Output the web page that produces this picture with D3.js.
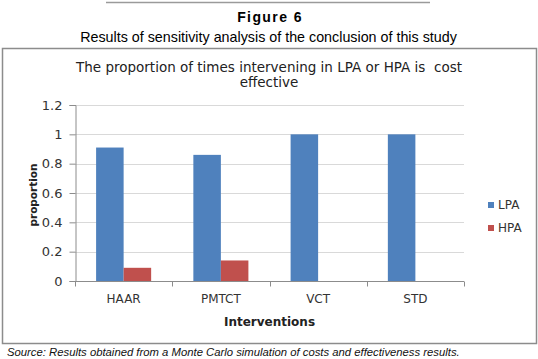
<!doctype html>
<html lang="en">
<head>
<meta charset="UTF-8">
<title>Figure 6</title>
<style>
  body { margin: 0; background: #fff; }
  svg { display: block; }
</style>
</head>
<body>
<svg id="chart"></svg>
<script src="https://cdn.jsdelivr.net/npm/d3@7"></script>
<script>
const categories = ["HAAR", "PMTCT", "VCT", "STD"];
const seriesNames = ["LPA", "HPA"];
const lpaValues = [0.91, 0.86, 1, 1];
const hpaValues = [0.09, 0.14, 0, 0];
const yTicks = [0, 0.2, 0.4, 0.6, 0.8, 1, 1.2];
const colors = ["#4f81bd", "#c0504d"];

const width = 538, height = 359;
const svg = d3.select("#chart").attr("width", width).attr("height", height);

const plot = { left: 75, right: 464, top: 105, bottom: 281 };

// page header
svg.append("line")
   .attr("x1", 106).attr("x2", 430).attr("y1", 2.5).attr("y2", 2.5)
   .style("stroke", "#9a9a9a").style("stroke-width", 1.5);

svg.append("text")
   .attr("x", 270).attr("y", 22)
   .attr("text-anchor", "middle")
   .style("font", "bold 14px 'Liberation Sans', Arial, sans-serif")
   .style("letter-spacing", "1.4px")
   .text("Figure 6");

svg.append("text")
   .attr("x", 268.5).attr("y", 42)
   .attr("text-anchor", "middle")
   .style("font", "14.3px 'Liberation Sans', Arial, sans-serif")
   .text("Results of sensitivity analysis of the conclusion of this study");

// chart frame
svg.append("rect")
   .attr("x", 2.5).attr("y", 48.5).attr("width", 534).attr("height", 295)
   .style("fill", "#fff").style("stroke", "#8c8c8c").style("stroke-width", 1.5);

const title = svg.append("text")
   .attr("text-anchor", "middle")
   .style("font", "13.5px 'DejaVu Sans', Verdana, sans-serif").style("fill", "#222");
title.append("tspan").attr("x", 269).attr("y", 72)
     .text("The proportion of times intervening in LPA or HPA is\u00a0\u00a0cost");
title.append("tspan").attr("x", 269).attr("y", 87).text("effective");

// scales
const x0 = d3.scaleBand().domain(categories).range([plot.left, plot.right]).padding(0);
const bw = x0.bandwidth();
const x1 = d3.scaleBand().domain(seriesNames).range([bw * 0.217, bw * 0.783]).padding(0);
const y = d3.scaleLinear().domain([0, 1.2]).range([plot.bottom, plot.top]);

// gridlines
svg.append("g").selectAll("line").data(yTicks.filter(d => d > 0)).join("line")
   .attr("x1", plot.left).attr("x2", plot.right)
   .attr("y1", d => Math.round(y(d)) + 0.5).attr("y2", d => Math.round(y(d)) + 0.5)
   .style("stroke", "#d9d9d9").style("stroke-width", 1);

// bars
const rows = categories.map((c, i) => ({ cat: c, values: [lpaValues[i], hpaValues[i]] }));
const groups = svg.append("g").selectAll("g").data(rows).join("g")
   .attr("transform", d => `translate(${x0(d.cat)},0)`);
groups.selectAll("rect")
   .data(d => d.values.map((v, j) => ({ name: seriesNames[j], value: v, j })))
   .join("rect")
   .attr("x", d => x1(d.name))
   .attr("width", x1.bandwidth())
   .attr("y", d => y(d.value))
   .attr("height", d => y(0) - y(d.value))
   .style("fill", d => colors[d.j]);

// y axis
const yAxis = svg.append("g")
   .attr("transform", `translate(${plot.left + 0.5},0)`)
   .call(d3.axisLeft(y).tickValues(yTicks).tickSize(6).tickPadding(7)
           .tickFormat(d => d3.format("~g")(d)));
yAxis.select(".domain").style("stroke", "#8c8c8c");
yAxis.selectAll(".tick line").style("stroke", "#8c8c8c");
yAxis.selectAll(".tick text")
   .style("font", "13px 'DejaVu Sans', Verdana, sans-serif").style("fill", "#333");

// x axis
const xAxisG = svg.append("g").attr("transform", `translate(0,${plot.bottom + 0.5})`);
xAxisG.append("line").attr("x1", plot.left).attr("x2", plot.right)
   .style("stroke", "#8c8c8c");
const bounds = categories.map(c => x0(c)).concat([plot.right]);
xAxisG.selectAll(".xt").data(bounds).join("line")
   .attr("class", "xt")
   .attr("x1", d => Math.round(d) + 0.5).attr("x2", d => Math.round(d) + 0.5)
   .attr("y1", 0).attr("y2", 5)
   .style("stroke", "#8c8c8c");
xAxisG.selectAll(".xl").data(categories).join("text")
   .attr("class", "xl")
   .attr("x", d => x0(d) + bw / 2).attr("y", 21)
   .attr("text-anchor", "middle")
   .style("font", "12px 'DejaVu Sans', Verdana, sans-serif").style("fill", "#333")
   .text(d => d);

// axis titles
svg.append("text")
   .attr("x", (plot.left + plot.right) / 2).attr("y", 326)
   .attr("text-anchor", "middle")
   .style("font", "bold 12px 'DejaVu Sans', Verdana, sans-serif").style("fill", "#222")
   .text("Interventions");

svg.append("text")
   .attr("transform", `translate(37,${(plot.top + plot.bottom) / 2 + 2}) rotate(-90)`)
   .attr("text-anchor", "middle")
   .style("font", "bold 10.5px 'DejaVu Sans', Verdana, sans-serif").style("fill", "#222")
   .text("proportion");

// legend
const legend = svg.append("g").selectAll("g").data(seriesNames).join("g")
   .attr("transform", (d, i) => `translate(488,${202 + i * 23})`);
legend.append("rect").attr("width", 6).attr("height", 6)
   .style("fill", (d, i) => colors[i]);
legend.append("text").attr("x", 10).attr("y", 7)
   .style("font", "12px 'DejaVu Sans', Verdana, sans-serif").style("fill", "#333")
   .text(d => d);

// source
svg.append("text")
   .attr("x", 7).attr("y", 356)
   .style("font", "italic 11.3px 'Liberation Sans', Arial, sans-serif").style("fill", "#111")
   .text("Source: Results obtained from a Monte Carlo simulation of costs and effectiveness results.");
</script>
</body>
</html>
